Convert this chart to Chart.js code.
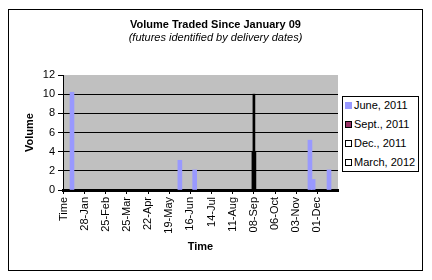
<!DOCTYPE html>
<html>
<head>
<meta charset="utf-8">
<script src="https://cdn.jsdelivr.net/npm/chart.js@4.4.0/dist/chart.umd.min.js"></script>
<style>
  body { margin: 0; background: #fff; font-family: "Liberation Sans", Arial, sans-serif; }
  #wrap { position: relative; width: 432px; height: 280px; overflow: hidden; }
  #frame { position: absolute; left: 8px; top: 9px; width: 413px; height: 260px; border: 1px solid #000; }
  canvas { position: absolute; left: 0; top: 0; }
  .title { position: absolute; left: 8px; width: 415px; text-align: center; font-size: 11px; line-height: 13px; color: #000; }
  #title { top: 18px; font-weight: bold; }
  #subtitle { top: 31px; font-style: italic; }
  #legend { position: absolute; left: 342px; top: 96px; width: 75px; height: 74px; border: 1px solid #000; background: #fff; font-size: 11px; }
  .item { position: absolute; left: 2px; height: 13px; line-height: 13px; white-space: nowrap; }
  .sw { position: absolute; left: 0; top: 3px; width: 7px; height: 7px; box-sizing: border-box; }
  .txt { position: absolute; left: 9px; top: 0; }
</style>
</head>
<body>
<div id="wrap">
  <div id="frame"></div>
  <canvas id="chart" width="432" height="280"></canvas>
  <div class="title" id="title">Volume Traded Since January 09</div>
  <div class="title" id="subtitle">(futures identified by delivery dates)</div>
  <div id="legend"></div>
</div>
<script>
// trading-day index on the x axis, a label every 20 days
const tickLabels = ['Time', '28-Jan', '25-Feb', '25-Mar', '22-Apr', '19-May', '16-Jun',
  '14-Jul', '11-Aug', '08-Sep', '06-Oct', '03-Nov', '01-Dec'];
const labelStep = 20;
const lastDay = 259;

const seriesNames = ['June, 2011', 'Sept., 2011', 'Dec., 2011', 'March, 2012'];

const juneDays = [8, 110, 124, 233, 236, 251];
const juneVolume = [10.2, 3.1, 2.1, 5.2, 1.1, 2.1];
const septDays = [180];
const septVolume = [4];
const decDays = [180];
const decVolume = [10];
const marchDays = [];
const marchVolume = [];

// legend swatches (fill, border) per series
const swatchFill = ['#9999FF', '#993366', '#FFFFFF', '#FFFFFF'];
const swatchBorder = ['#9999FF', '#000000', '#000000', '#000000'];

const toPoints = (days, vols) => days.map((d, i) => ({ x: d, y: vols[i] }));

Chart.defaults.font.family = '"Liberation Sans", Arial, sans-serif';
Chart.defaults.font.size = 11;
Chart.defaults.color = '#000';

const plotBg = {
  id: 'plotBg',
  beforeDraw(chart) {
    const { ctx, chartArea: a } = chart;
    ctx.save();
    ctx.fillStyle = '#C0C0C0';
    ctx.fillRect(a.left, a.top, a.right - a.left, a.bottom - a.top);
    ctx.restore();
  }
};

const chart = new Chart(document.getElementById('chart'), {
  type: 'bar',
  data: {
    datasets: [
      { label: seriesNames[0], data: toPoints(juneDays, juneVolume), backgroundColor: '#9999FF', barThickness: 4 },
      { label: seriesNames[1], data: toPoints(septDays, septVolume), backgroundColor: '#000000', barThickness: 4 },
      { label: seriesNames[2], data: toPoints(decDays, decVolume), backgroundColor: '#000000', barThickness: 2 },
      { label: seriesNames[3], data: toPoints(marchDays, marchVolume), backgroundColor: '#000000', barThickness: 4 }
    ]
  },
  options: {
    responsive: false,
    animation: false,
    datasets: { bar: { grouped: false, borderWidth: 0 } },
    layout: { padding: { left: 8, right: 94, top: 75, bottom: 10 } },
    plugins: { legend: { display: false }, tooltip: { enabled: false } },
    scales: {
      x: {
        type: 'linear',
        min: -0.5,
        max: lastDay + 0.5,
        offset: false,
        afterBuildTicks: s => { s.ticks = tickLabels.map((_, i) => ({ value: i * labelStep })); },
        afterFit: s => { s.height = 80; },
        ticks: {
          autoSkip: false, minRotation: 90, maxRotation: 90, padding: 3,
          callback: (v, i) => tickLabels[i]
        },
        grid: { drawOnChartArea: false, offset: false, tickLength: 4, tickColor: '#000' },
        border: { color: '#000', width: 3 },
        title: { display: true, text: 'Time', font: { size: 11, weight: 'bold' }, padding: { top: 4, bottom: 16 } }
      },
      y: {
        min: 0,
        max: 12,
        afterFit: s => { s.width = 55; },
        ticks: { stepSize: 2, padding: 3 },
        grid: {
          color: c => (c.tick && c.tick.value > 0 && c.tick.value < 12) ? '#000' : 'rgba(0,0,0,0)',
          tickColor: '#000',
          tickLength: 5
        },
        border: { color: '#000', width: 1 },
        title: { display: true, text: 'Volume', font: { size: 11, weight: 'bold' }, padding: { top: 15, bottom: 4 } }
      }
    }
  },
  plugins: [plotBg]
});

// legend in a bordered box, as in the original
const legend = document.getElementById('legend');
chart.data.datasets.forEach((ds, i) => {
  const row = document.createElement('div');
  row.className = 'item';
  row.style.top = (1.5 + i * 19) + 'px';
  const sw = document.createElement('span');
  sw.className = 'sw';
  sw.style.background = swatchFill[i];
  sw.style.border = '1px solid ' + swatchBorder[i];
  const txt = document.createElement('span');
  txt.className = 'txt';
  txt.textContent = ds.label;
  row.appendChild(sw);
  row.appendChild(txt);
  legend.appendChild(row);
});
</script>
</body>
</html>
